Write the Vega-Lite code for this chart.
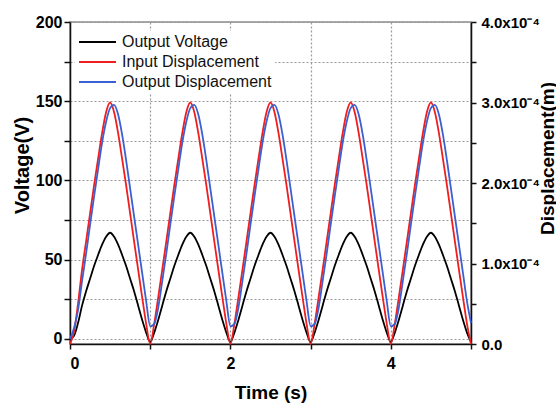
{
  "$schema": "https://vega.github.io/schema/vega-lite/v6.json",
  "width": 401,
  "height": 322,
  "autosize": {"type": "none"},
  "padding": {"left": 70, "top": 22, "right": 85, "bottom": 59},
  "background": "white",
  "config": {"font": "Liberation Sans", "view": {"stroke": "#8c8c8c", "strokeWidth": 1.5}},
  "data": {"values": [
    {"t":0,"v":0,"din":0,"dout":0.06e-4},
    {"t":0.05,"v":2,"din":0.15e-4,"dout":0.2e-4},
    {"t":0.1,"v":10,"din":0.5e-4,"dout":0.42e-4},
    {"t":0.15,"v":21,"din":0.92e-4,"dout":0.78e-4},
    {"t":0.2,"v":30,"din":1.27e-4,"dout":1.12e-4},
    {"t":0.25,"v":38,"din":1.62e-4,"dout":1.48e-4},
    {"t":0.3,"v":46,"din":1.97e-4,"dout":1.83e-4},
    {"t":0.35,"v":53,"din":2.30e-4,"dout":2.17e-4},
    {"t":0.4,"v":59.5,"din":2.62e-4,"dout":2.50e-4},
    {"t":0.45,"v":64.5,"din":2.88e-4,"dout":2.76e-4},
    {"t":0.5,"v":67,"din":3.00e-4,"dout":2.93e-4},
    {"t":0.55,"v":64.5,"din":2.88e-4,"dout":2.97e-4},
    {"t":0.6,"v":59.5,"din":2.62e-4,"dout":2.85e-4},
    {"t":0.65,"v":53,"din":2.30e-4,"dout":2.60e-4},
    {"t":0.7,"v":46,"din":1.97e-4,"dout":2.28e-4},
    {"t":0.75,"v":38,"din":1.62e-4,"dout":1.93e-4},
    {"t":0.8,"v":30,"din":1.27e-4,"dout":1.58e-4},
    {"t":0.85,"v":21,"din":0.92e-4,"dout":1.23e-4},
    {"t":0.9,"v":12,"din":0.58e-4,"dout":0.88e-4},
    {"t":0.95,"v":4,"din":0.25e-4,"dout":0.53e-4},
    {"t":1.0,"v":-2,"din":0,"dout":0.22e-4},
    {"t":1.05,"v":4,"din":0.25e-4,"dout":0.25e-4},
    {"t":1.1,"v":12,"din":0.58e-4,"dout":0.45e-4},
    {"t":1.15,"v":21,"din":0.92e-4,"dout":0.78e-4},
    {"t":1.2,"v":30,"din":1.27e-4,"dout":1.12e-4},
    {"t":1.25,"v":38,"din":1.62e-4,"dout":1.48e-4},
    {"t":1.3,"v":46,"din":1.97e-4,"dout":1.83e-4},
    {"t":1.35,"v":53,"din":2.30e-4,"dout":2.17e-4},
    {"t":1.4,"v":59.5,"din":2.62e-4,"dout":2.50e-4},
    {"t":1.45,"v":64.5,"din":2.88e-4,"dout":2.76e-4},
    {"t":1.5,"v":67,"din":3.00e-4,"dout":2.93e-4},
    {"t":1.55,"v":64.5,"din":2.88e-4,"dout":2.97e-4},
    {"t":1.6,"v":59.5,"din":2.62e-4,"dout":2.85e-4},
    {"t":1.65,"v":53,"din":2.30e-4,"dout":2.60e-4},
    {"t":1.7,"v":46,"din":1.97e-4,"dout":2.28e-4},
    {"t":1.75,"v":38,"din":1.62e-4,"dout":1.93e-4},
    {"t":1.8,"v":30,"din":1.27e-4,"dout":1.58e-4},
    {"t":1.85,"v":21,"din":0.92e-4,"dout":1.23e-4},
    {"t":1.9,"v":12,"din":0.58e-4,"dout":0.88e-4},
    {"t":1.95,"v":4,"din":0.25e-4,"dout":0.53e-4},
    {"t":2.0,"v":-2,"din":0,"dout":0.22e-4},
    {"t":2.05,"v":4,"din":0.25e-4,"dout":0.25e-4},
    {"t":2.1,"v":12,"din":0.58e-4,"dout":0.45e-4},
    {"t":2.15,"v":21,"din":0.92e-4,"dout":0.78e-4},
    {"t":2.2,"v":30,"din":1.27e-4,"dout":1.12e-4},
    {"t":2.25,"v":38,"din":1.62e-4,"dout":1.48e-4},
    {"t":2.3,"v":46,"din":1.97e-4,"dout":1.83e-4},
    {"t":2.35,"v":53,"din":2.30e-4,"dout":2.17e-4},
    {"t":2.4,"v":59.5,"din":2.62e-4,"dout":2.50e-4},
    {"t":2.45,"v":64.5,"din":2.88e-4,"dout":2.76e-4},
    {"t":2.5,"v":67,"din":3.00e-4,"dout":2.93e-4},
    {"t":2.55,"v":64.5,"din":2.88e-4,"dout":2.97e-4},
    {"t":2.6,"v":59.5,"din":2.62e-4,"dout":2.85e-4},
    {"t":2.65,"v":53,"din":2.30e-4,"dout":2.60e-4},
    {"t":2.7,"v":46,"din":1.97e-4,"dout":2.28e-4},
    {"t":2.75,"v":38,"din":1.62e-4,"dout":1.93e-4},
    {"t":2.8,"v":30,"din":1.27e-4,"dout":1.58e-4},
    {"t":2.85,"v":21,"din":0.92e-4,"dout":1.23e-4},
    {"t":2.9,"v":12,"din":0.58e-4,"dout":0.88e-4},
    {"t":2.95,"v":4,"din":0.25e-4,"dout":0.53e-4},
    {"t":3.0,"v":-2,"din":0,"dout":0.22e-4},
    {"t":3.05,"v":4,"din":0.25e-4,"dout":0.25e-4},
    {"t":3.1,"v":12,"din":0.58e-4,"dout":0.45e-4},
    {"t":3.15,"v":21,"din":0.92e-4,"dout":0.78e-4},
    {"t":3.2,"v":30,"din":1.27e-4,"dout":1.12e-4},
    {"t":3.25,"v":38,"din":1.62e-4,"dout":1.48e-4},
    {"t":3.3,"v":46,"din":1.97e-4,"dout":1.83e-4},
    {"t":3.35,"v":53,"din":2.30e-4,"dout":2.17e-4},
    {"t":3.4,"v":59.5,"din":2.62e-4,"dout":2.50e-4},
    {"t":3.45,"v":64.5,"din":2.88e-4,"dout":2.76e-4},
    {"t":3.5,"v":67,"din":3.00e-4,"dout":2.93e-4},
    {"t":3.55,"v":64.5,"din":2.88e-4,"dout":2.97e-4},
    {"t":3.6,"v":59.5,"din":2.62e-4,"dout":2.85e-4},
    {"t":3.65,"v":53,"din":2.30e-4,"dout":2.60e-4},
    {"t":3.7,"v":46,"din":1.97e-4,"dout":2.28e-4},
    {"t":3.75,"v":38,"din":1.62e-4,"dout":1.93e-4},
    {"t":3.8,"v":30,"din":1.27e-4,"dout":1.58e-4},
    {"t":3.85,"v":21,"din":0.92e-4,"dout":1.23e-4},
    {"t":3.9,"v":12,"din":0.58e-4,"dout":0.88e-4},
    {"t":3.95,"v":4,"din":0.25e-4,"dout":0.53e-4},
    {"t":4.0,"v":-2,"din":0,"dout":0.22e-4},
    {"t":4.05,"v":4,"din":0.25e-4,"dout":0.25e-4},
    {"t":4.1,"v":12,"din":0.58e-4,"dout":0.45e-4},
    {"t":4.15,"v":21,"din":0.92e-4,"dout":0.78e-4},
    {"t":4.2,"v":30,"din":1.27e-4,"dout":1.12e-4},
    {"t":4.25,"v":38,"din":1.62e-4,"dout":1.48e-4},
    {"t":4.3,"v":46,"din":1.97e-4,"dout":1.83e-4},
    {"t":4.35,"v":53,"din":2.30e-4,"dout":2.17e-4},
    {"t":4.4,"v":59.5,"din":2.62e-4,"dout":2.50e-4},
    {"t":4.45,"v":64.5,"din":2.88e-4,"dout":2.76e-4},
    {"t":4.5,"v":67,"din":3.00e-4,"dout":2.93e-4},
    {"t":4.55,"v":64.5,"din":2.88e-4,"dout":2.97e-4},
    {"t":4.6,"v":59.5,"din":2.62e-4,"dout":2.85e-4},
    {"t":4.65,"v":53,"din":2.30e-4,"dout":2.60e-4},
    {"t":4.7,"v":46,"din":1.97e-4,"dout":2.28e-4},
    {"t":4.75,"v":38,"din":1.62e-4,"dout":1.93e-4},
    {"t":4.8,"v":30,"din":1.27e-4,"dout":1.58e-4},
    {"t":4.85,"v":21,"din":0.92e-4,"dout":1.23e-4},
    {"t":4.9,"v":12,"din":0.58e-4,"dout":0.88e-4},
    {"t":4.95,"v":4,"din":0.25e-4,"dout":0.53e-4},
    {"t":5.0,"v":-2,"din":0,"dout":0.26e-4}
  ]},
  "encoding": {
    "x": {
      "field": "t", "type": "quantitative",
      "scale": {"domain": [0, 5], "nice": false, "zero": false},
      "axis": {
        "title": "Time (s)", "titleFontSize": 19, "titleFontWeight": "bold", "titleColor": "#000", "titlePadding": 12,
        "values": [0, 1, 2, 3, 4, 5],
        "labelExpr": "datum.value % 2 == 0 ? datum.label : ''",
        "labelFontSize": 16, "labelFontWeight": "bold", "labelColor": "#000", "labelPadding": 6,
        "domainColor": "#111", "domainWidth": 1.5, "tickColor": "#111", "tickWidth": 1.5, "tickSize": 5,
        "grid": true, "gridDash": [2, 2], "gridColor": "#999999", "gridWidth": 1.2
      }
    }
  },
  "layer": [
    {
      "mark": {"type": "line", "interpolate": "monotone", "strokeWidth": 1.8},
      "encoding": {
        "y": {
          "field": "v", "type": "quantitative",
          "scale": {"domain": [-3.2, 200], "nice": false, "zero": false},
          "axis": {
            "title": "Voltage(V)", "titleFontSize": 20, "titleFontWeight": "bold", "titleColor": "#000",
            "titleAngle": 270, "titleX": -48, "titleY": 143, "titleAlign": "center", "titleBaseline": "middle",
            "values": [0, 25, 50, 75, 100, 125, 150, 175, 200],
            "labelExpr": "datum.value % 50 == 0 ? datum.label : ''",
            "labelFontSize": 16, "labelFontWeight": "bold", "labelColor": "#000", "labelPadding": 2,
            "domainColor": "#111", "domainWidth": 1.5, "tickColor": "#111", "tickWidth": 1.5, "tickSize": 6,
            "grid": true, "gridDash": [2, 2], "gridColor": "#999999", "gridWidth": 1.2
          }
        },
        "color": {
          "datum": "v", "type": "nominal", "title": null,
          "scale": {"domain": ["v", "din", "dout"], "range": ["#000000", "#f01e1e", "#3c5fd2"]},
          "legend": {
            "title": null, "orient": "none", "legendX": 5, "legendY": 9,
            "fillColor": "white", "padding": 3,
            "symbolType": "stroke", "symbolSize": 1369, "symbolStrokeWidth": 2,
            "clipHeight": 16,
            "labelFontSize": 16, "labelColor": "#111", "labelOffset": 5, "rowPadding": 4,
            "labelExpr": "datum.value == 'v' ? 'Output Voltage' : (datum.value == 'din' ? 'Input Displacement' : 'Output Displacement')"
          }
        }
      }
    },
    {
      "transform": [{"fold": ["din", "dout"], "as": ["series", "disp"]}],
      "mark": {"type": "line", "interpolate": "monotone", "strokeWidth": 1.8},
      "encoding": {
        "y": {
          "field": "disp", "type": "quantitative",
          "scale": {"domain": [0, 0.0004], "nice": false, "zero": false},
          "axis": {
            "orient": "right",
            "title": "Displacement(m)", "titleFontSize": 19, "titleFontWeight": "bold", "titleColor": "#000",
            "titleAngle": 270, "titleX": 76, "titleY": 136, "titleAlign": "center", "titleBaseline": "middle",
            "values": [0, 0.00005, 0.0001, 0.00015, 0.0002, 0.00025, 0.0003, 0.00035, 0.0004],
            "labelExpr": "datum.value == 0 ? '0.0' : (round(datum.value * 20000) % 2 == 0 ? format(datum.value * 10000, '.1f') + 'x10⁻⁴' : '')",
            "labelFontSize": 15, "labelFontWeight": "bold", "labelColor": "#000", "labelPadding": 5,
            "domainColor": "#111", "domainWidth": 1.5, "tickColor": "#111", "tickWidth": 1.5, "tickSize": 5,
            "grid": false
          }
        },
        "color": {"field": "series", "type": "nominal", "title": null}
      }
    }
  ],
  "resolve": {"scale": {"y": "independent"}}
}
